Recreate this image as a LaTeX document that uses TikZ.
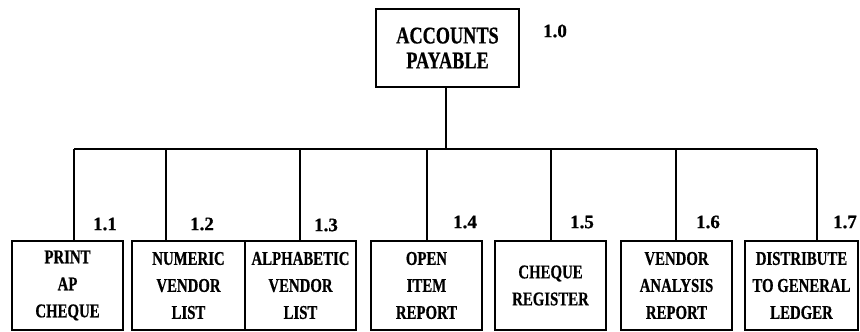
\documentclass[tikz,border=0pt]{standalone}
\usepackage{fontspec}
\setmainfont{Liberation Serif}
\newfontfamily\cf[FakeStretch=0.76,FakeBold=0.6]{Liberation Serif}
\newfontfamily\nf[FakeBold=0.6]{Liberation Serif}
\begin{document}
\begin{tikzpicture}[x=1pt,y=-1pt,
  box/.style={draw,line width=2.4pt,inner sep=0pt,align=center,
    minimum height=89pt,font=\cf\bfseries\fontsize{19.5}{27}\selectfont},
  topbox/.style={draw,line width=2.4pt,inner sep=0pt,align=center,
    minimum width=143pt,minimum height=78pt,font=\cf\bfseries\fontsize{24}{25}\selectfont},
  num/.style={inner sep=0pt,font=\nf\bfseries\fontsize{19}{22}\selectfont},
  link/.style={line width=1.3pt},
  bar/.style={line width=1.8pt}]
\useasboundingbox (0,0) rectangle (860,332);
\node[topbox] (top) at (447.5,48) {ACCOUNTS\\PAYABLE};
\node[box,minimum width=111pt] (b1) at (67.5,285.5) {PRINT\\AP\\CHEQUE};
\node[box,minimum width=113pt] (b2) at (188.5,285.5) {NUMERIC\\VENDOR\\LIST};
\node[box,minimum width=111pt] (b3) at (300.5,285.5) {ALPHABETIC\\VENDOR\\LIST};
\node[box,minimum width=111pt] (b4) at (426.5,285.5) {OPEN\\ITEM\\REPORT};
\node[box,minimum width=111pt] (b5) at (550.5,285.5) {CHEQUE\\REGISTER};
\node[box,minimum width=111pt] (b6) at (676.5,285.5) {VENDOR\\ANALYSIS\\REPORT};
\node[box,minimum width=113pt] (b7) at (801.5,285.5) {DISTRIBUTE\\TO GENERAL\\LEDGER};
\node[num] (l10) at (555,31) {1.0};
\node[num] (l11) at (105,224) {1.1};
\node[num] (l12) at (202,224) {1.2};
\node[num] (l13) at (326,225) {1.3};
\node[num] (l14) at (465,222) {1.4};
\node[num] (l15) at (582,222) {1.5};
\node[num] (l16) at (708,222) {1.6};
\node[num] (l17) at (845,222) {1.7};
\coordinate (t) at (446,149);
\coordinate (j1) at (74,149);
\coordinate (j2) at (166,149);
\coordinate (j3) at (300,149);
\coordinate (j4) at (427,149);
\coordinate (j5) at (551,149);
\coordinate (j6) at (676,149);
\coordinate (j7) at (817,149);
\draw[link] (top.south -| t) -- (t);
\draw[bar] (j1) -- (j7);
\foreach \i in {1,...,7}{\draw[link] (j\i) -- (j\i |- b\i.north);}
\end{tikzpicture}
\end{document}
